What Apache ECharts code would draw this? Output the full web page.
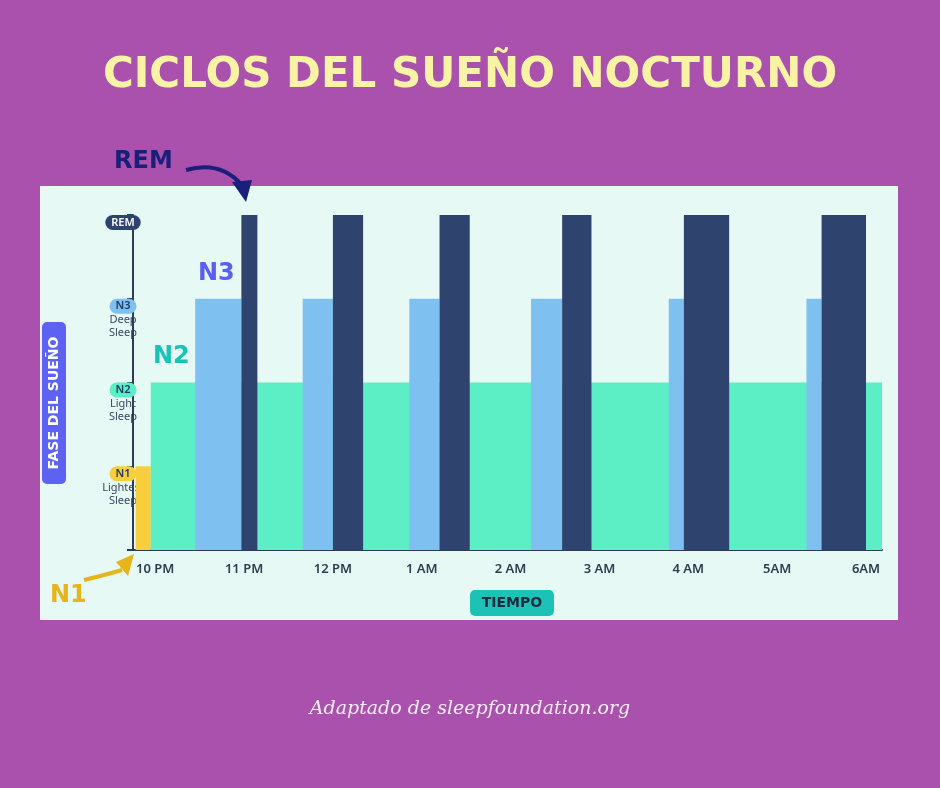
<!DOCTYPE html>
<html><head><meta charset="utf-8">
<script src="https://cdn.jsdelivr.net/npm/echarts@6/dist/echarts.min.js"></script>
<style>html,body{margin:0;padding:0;background:#a951ad}#c{width:940px;height:788px}</style>
</head><body><div id="c"></div>
<script>
// Hours since midnight (22 = 10 PM, 30 = 6 AM)
const timeTicks = [22,23,24,25,26,27,28,29,30];
const timeLabels = ['10 PM','11 PM','12 PM','1 AM','2 AM','3 AM','4 AM','5AM','6AM'];
const stageNames = ['', 'N1', 'N2', 'N3', 'REM'];
const stageSub = ['', 'Lightest\nSleep', 'Light\nSleep', 'Deep\nSleep', ''];
// [start, end, level]
const n1Segments = [[21.78, 21.95, 1]];
const n2Segments = [[21.95, 30.18, 2]];
const n3Segments = [[22.45,22.97,3],[23.66,24.0,3],[24.86,25.2,3],[26.23,26.58,3],[27.78,27.95,3],[29.33,29.5,3]];
const remSegments = [[22.97,23.15,4],[24.0,24.34,4],[25.2,25.54,4],[26.58,26.91,4],[27.95,28.46,4],[29.5,30.0,4]];

const chart = echarts.init(document.getElementById('c'));
function rectItem(color){
  return function(params, api){
    const s = api.coord([api.value(0), api.value(2)]);
    const e = api.coord([api.value(1), 0]);
    return {type:'rect', shape:{x:s[0], y:s[1], width:e[0]-s[0], height:e[1]-s[1]}, style:{fill:color}};
  };
}
function seg(data, color, z){
  return {type:'custom', data, renderItem: rectItem(color), z, encode:{x:[0,1], y:2}};
}
const pillColors = {N1:'#f7cf3d', N2:'#5ceec4', N3:'#7ec0f0', REM:'#2e436e'};
chart.setOption({
  backgroundColor:'#a951ad',
  title:{text:'CICLOS DEL SUEÑO NOCTURNO', left:'center', top:50,
    textStyle:{color:'#f9f3a6', fontSize:42, fontWeight:900, fontFamily:'DejaVu Sans', letterSpacing:2}},
  grid:{left:133, right:58, top:215, bottom:238},
  xAxis:{type:'value', min:21.75, max:30.18,
    axisLine:{show:true, onZero:false, lineStyle:{color:'#2e3b55', width:2}},
    axisTick:{show:false}, splitLine:{show:false},
    axisLabel:{customValues:timeTicks, color:'#2c3e50', fontSize:13, fontWeight:600, fontFamily:'Noto Sans', margin:13,
      formatter:v=>timeLabels[timeTicks.indexOf(Math.round(v))] || ''}},
  yAxis:{type:'value', min:0, max:4, interval:1,
    axisLine:{show:true, lineStyle:{color:'#2e3b55', width:2}},
    axisTick:{show:true, length:6, lineStyle:{color:'#2e3b55', width:2}},
    splitLine:{show:false},
    axisLabel:{margin:10, align:'center', verticalAlign:'top', padding:[0,0,0,0],
      formatter:v=>{ if(!v) return ''; const n=stageNames[v]; const sub=stageSub[v];
        return '{'+n+'|'+n+'}' + (sub? '\n{s|'+sub.replace('\n','}\n{s|')+'}':''); },
      rich:{
        REM:{backgroundColor:'#2e436e', color:'#fff', borderRadius:8, padding:[2,6], fontSize:11, fontWeight:600, fontFamily:'Noto Sans'},
        N3:{backgroundColor:'#7ec0f0', color:'#1f3a66', borderRadius:8, padding:[2,6], fontSize:11, fontWeight:600, fontFamily:'Noto Sans'},
        N2:{backgroundColor:'#5ceec4', color:'#1f3a66', borderRadius:8, padding:[2,6], fontSize:11, fontWeight:600, fontFamily:'Noto Sans'},
        N1:{backgroundColor:'#f7cf3d', color:'#1f3a66', borderRadius:8, padding:[2,6], fontSize:11, fontWeight:600, fontFamily:'Noto Sans'},
        s:{color:'#3a4660', fontSize:11, lineHeight:13, fontFamily:'Noto Sans'}
      }}},
  graphic:[
    {type:'rect', z:-10, shape:{x:40,y:186,width:858,height:434}, style:{fill:'#e6f9f4'}},
    {type:'group', left:42, top:322, children:[
      {type:'rect', shape:{x:0,y:0,width:24,height:162,r:5}, style:{fill:'#5d62f2'}},
      {type:'text', x:12, y:81, rotation:Math.PI/2, style:{text:'FASE DEL SUEÑO', fill:'#fff', fontSize:14, fontWeight:900, fontFamily:'DejaVu Sans', align:'center', verticalAlign:'middle', letterSpacing:1}}
    ]},
    {type:'group', left:470, top:590, children:[
      {type:'rect', shape:{x:0,y:0,width:84,height:26,r:5}, style:{fill:'#1bc2b5'}},
      {type:'text', x:42, y:13, style:{text:'TIEMPO', fill:'#1a2a40', fontSize:14, fontWeight:900, fontFamily:'DejaVu Sans', align:'center', verticalAlign:'middle'}}
    ]},
    {type:'text', left:114, top:150, style:{text:'REM', fill:'#1a1f7a', fontSize:24, fontWeight:900, fontFamily:'DejaVu Sans'}},
    {type:'bezierCurve', shape:{x1:186,y1:170,cpx1:220,cpy1:160,x2:242,y2:185}, style:{stroke:'#1a1f7a', lineWidth:4, fill:null}},
    {type:'polygon', shape:{points:[[232,182],[252,180],[246,202]]}, style:{fill:'#1a1f7a'}},
    {type:'text', left:198, top:262, style:{text:'N3', fill:'#5a5ef5', fontSize:24, fontWeight:900, fontFamily:'DejaVu Sans'}},
    {type:'text', left:153, top:345, style:{text:'N2', fill:'#18c4b4', fontSize:24, fontWeight:900, fontFamily:'DejaVu Sans'}},
    {type:'text', left:50, top:584, style:{text:'N1', fill:'#e7b41a', fontSize:24, fontWeight:900, fontFamily:'DejaVu Sans'}},
    {type:'bezierCurve', shape:{x1:84,y1:580,cpx1:105,cpy1:575,x2:122,y2:570}, style:{stroke:'#e7b41a', lineWidth:4, fill:null}},
    {type:'polygon', shape:{points:[[116,562],[134,554],[128,576]]}, style:{fill:'#e7b41a'}},
    {type:'text', left:'center', top:700, style:{text:'Adaptado de sleepfoundation.org', fill:'#fbeefb', fontSize:19, fontStyle:'italic', fontFamily:'DejaVu Serif'}}
  ],
  series:[
    seg(n1Segments, '#f7cf3d', 2),
    seg(n2Segments, '#5ceec4', 2),
    seg(n3Segments, '#7ec0f0', 3),
    seg(remSegments, '#2e436e', 3)
  ]
});
</script></body></html>
